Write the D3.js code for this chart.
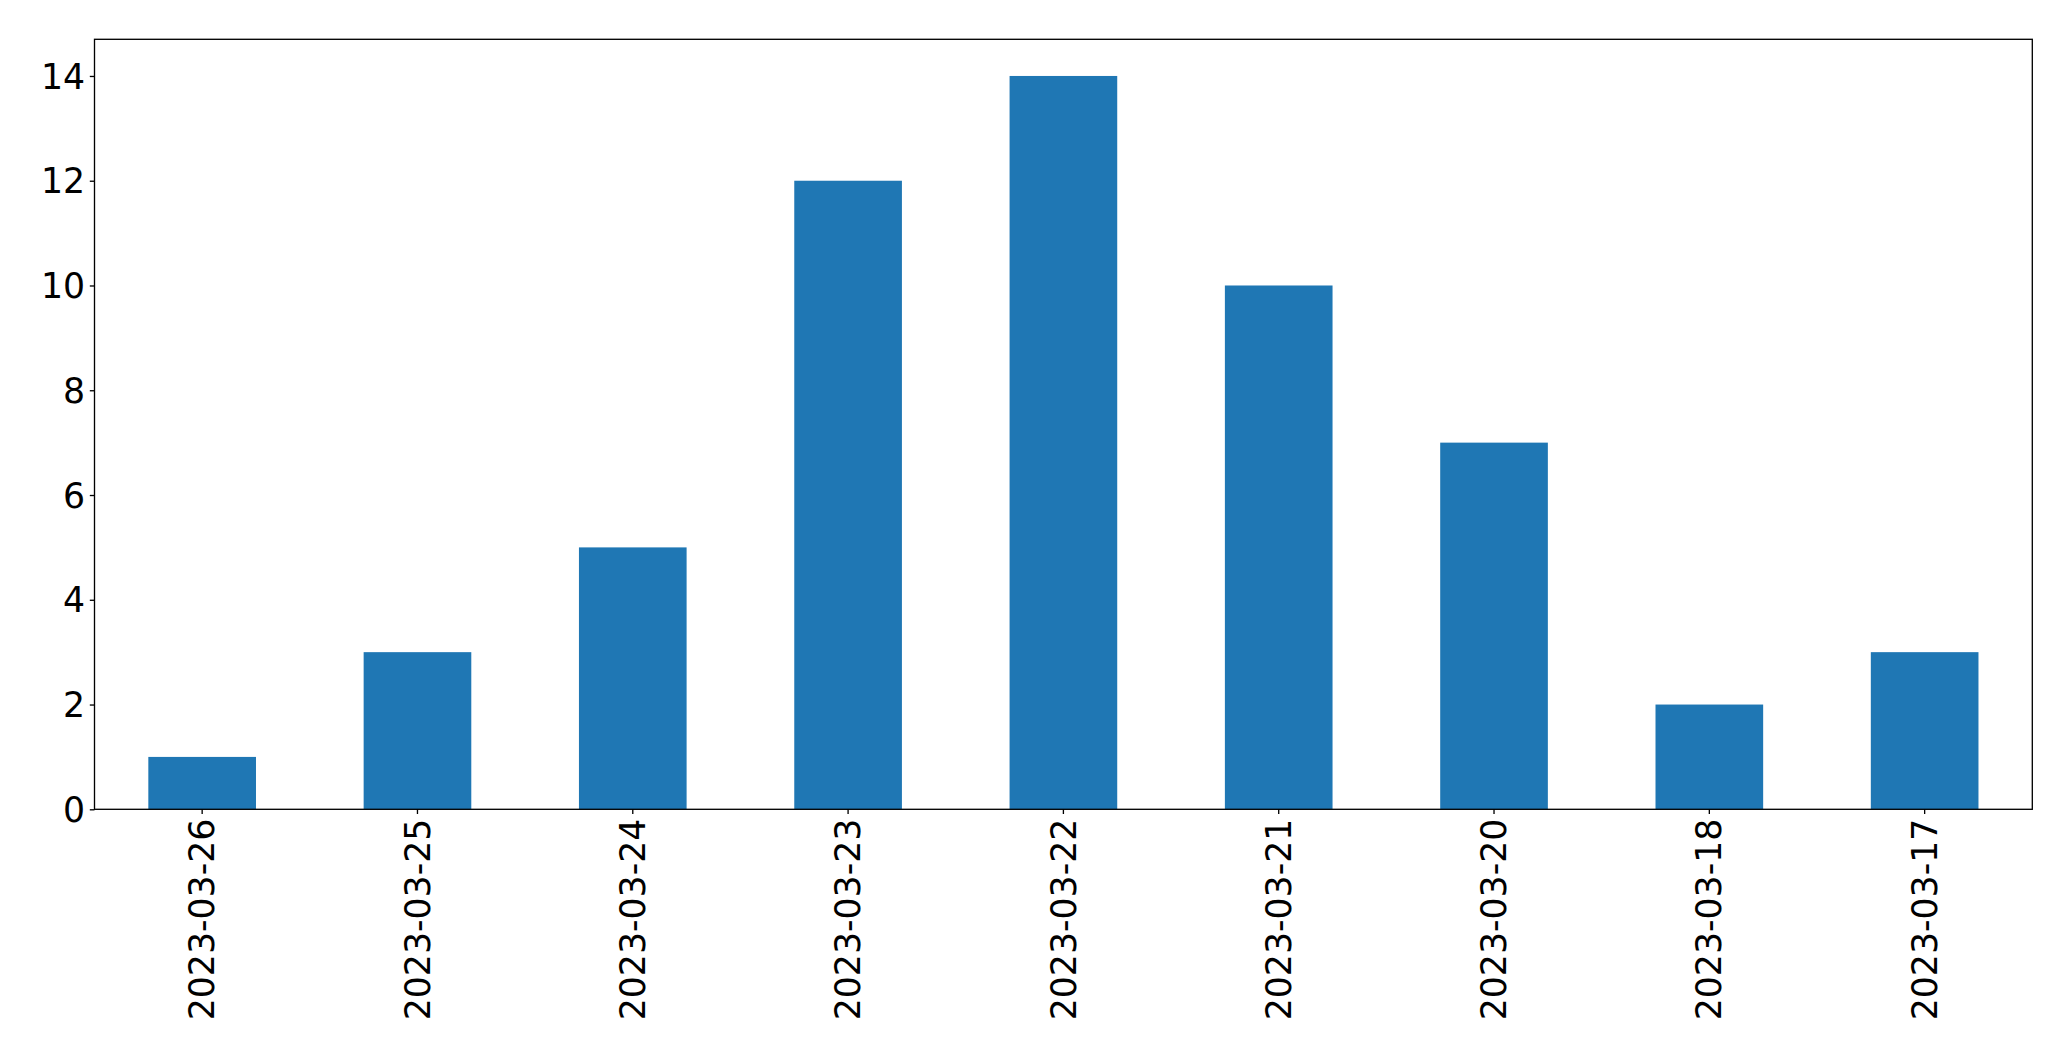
<!DOCTYPE html>
<html>
<head>
<meta charset="utf-8">
<script src="https://cdn.jsdelivr.net/npm/d3@7"></script>
<style>
  html, body { margin: 0; padding: 0; background: #fff; }
  svg { display: block; }
  text { font-family: "DejaVu Sans", sans-serif; fill: #000; }
</style>
</head>
<body>
<script>
const categories = ["2023-03-26","2023-03-25","2023-03-24","2023-03-23","2023-03-22","2023-03-21","2023-03-20","2023-03-18","2023-03-17"];
const values = [1, 3, 5, 12, 14, 10, 7, 2, 3];
const yTicks = [0, 2, 4, 6, 8, 10, 12, 14];

const W = 2071, H = 1061;
const margin = { left: 94.5, right: W - 2032.3, top: 39.3, bottom: H - 809.3 };
const fontSize = 34.7;
const tickLen = 4.7, pad = 4.7;

const svg = d3.select("body").append("svg").attr("width", W).attr("height", H);

const x = d3.scaleBand().domain(categories)
  .range([margin.left, W - margin.right]).paddingInner(0.5).paddingOuter(0.25);
const y = d3.scaleLinear().domain([0, 14.7]).range([H - margin.bottom, margin.top]);

svg.append("g").selectAll("rect").data(values).join("rect")
  .attr("x", (d, i) => x(categories[i]))
  .attr("width", x.bandwidth())
  .attr("y", d => y(d))
  .attr("height", d => y(0) - y(d))
  .attr("fill", "#1f77b4");

// frame
svg.append("rect")
  .attr("x", margin.left).attr("y", margin.top)
  .attr("width", W - margin.right - margin.left)
  .attr("height", H - margin.bottom - margin.top)
  .attr("fill", "none").attr("stroke", "#000").attr("stroke-width", 1.33);

// y axis
const yAxis = d3.axisLeft(y).tickValues(yTicks).tickSize(tickLen).tickPadding(pad).tickFormat(d3.format("d"));
const gy = svg.append("g").attr("transform", `translate(${margin.left},0)`).call(yAxis);
gy.select(".domain").remove();
gy.selectAll(".tick line").attr("stroke", "#000").attr("stroke-width", 1.33);
gy.selectAll(".tick text").attr("font-size", fontSize).attr("font-family", "DejaVu Sans").attr("fill", "#000").attr("dy", "0.35em");

// x axis
const xAxis = d3.axisBottom(x).tickSize(tickLen).tickPadding(pad);
const gx = svg.append("g").attr("transform", `translate(0,${H - margin.bottom})`).call(xAxis);
gx.select(".domain").remove();
gx.selectAll(".tick line").attr("stroke", "#000").attr("stroke-width", 1.33);
gx.selectAll(".tick text")
  .attr("font-size", fontSize).attr("font-family", "DejaVu Sans").attr("fill", "#000")
  .attr("text-anchor", "end")
  .attr("x", 0).attr("y", 0).attr("dy", "0.35em")
  .attr("transform", `translate(0,${tickLen + pad}) rotate(-90)`);
</script>
</body>
</html>
